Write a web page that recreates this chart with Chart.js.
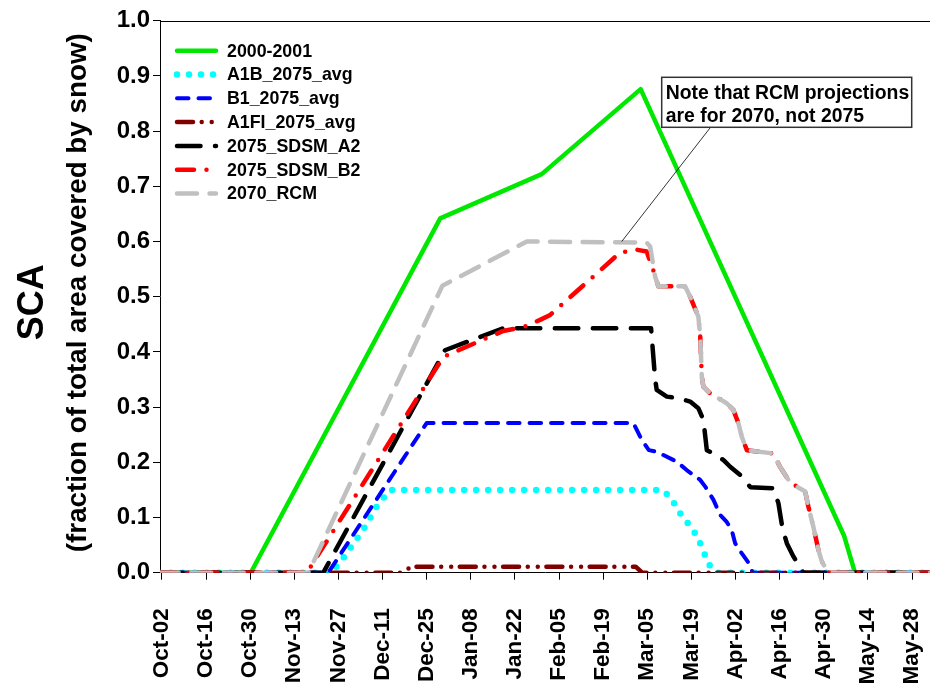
<!DOCTYPE html>
<html>
<head>
<meta charset="utf-8">
<script src="https://cdn.jsdelivr.net/npm/chart.js@4/dist/chart.umd.min.js"></script>
<style>
  html, body { margin: 0; padding: 0; background: #ffffff; }
  canvas { display: block; }
</style>
</head>
<body>
<canvas id="sca" width="930" height="685"></canvas>
<script>
// Day numbers are counted from Oct-02 (day 0) through the snow season.
const tickDays   = [0, 14, 28, 42, 56, 70, 84, 98, 112, 126, 140, 154, 168, 182, 196, 210, 224, 238];
const tickLabels = ['Oct-02', 'Oct-16', 'Oct-30', 'Nov-13', 'Nov-27', 'Dec-11', 'Dec-25', 'Jan-08', 'Jan-22',
                    'Feb-05', 'Feb-19', 'Mar-05', 'Mar-19', 'Apr-02', 'Apr-16', 'Apr-30', 'May-14', 'May-28'];
const yTickValues = [0, 0.1, 0.2, 0.3, 0.4, 0.5, 0.6, 0.7, 0.8, 0.9, 1.0];

const seriesNames = ['2000-2001', 'A1B_2075_avg', 'B1_2075_avg', 'A1FI_2075_avg',
                     '2075_SDSM_A2', '2075_SDSM_B2', '2070_RCM'];

// Observed 2000-2001 snow covered area
const obsDays = [-1, 28.2, 88.3, 120.5, 151.9, 216.5, 219.9, 245];
const obsSCA  = [0, 0, 0.642, 0.722, 0.876, 0.066, 0, 0];

// A1B scenario, 2075 average
const a1bDays = [-1, 53.3, 56.0, 64.0, 68.4, 72.4, 158.6, 161.2, 164.4, 166.7, 168.9, 170.8, 172.0, 173.7, 175.8, 245];
const a1bSCA  = [0, 0, 0.014, 0.079, 0.122, 0.150, 0.150, 0.138, 0.108, 0.091, 0.074, 0.053, 0.036, 0.014, 0, 0];

// B1 scenario, 2075 average
const b1Days = [-1, 52.8, 84.0, 149.6, 152.3, 154.5, 157.0, 163.4, 166.5, 170.8, 172.5, 175.0, 177.1,
                179.2, 180.8, 181.9, 184.0, 186.6, 187.4, 245];
const b1SCA  = [0, 0, 0.271, 0.271, 0.240, 0.222, 0.219, 0.201, 0.186, 0.168, 0.155, 0.132, 0.105,
                0.092, 0.077, 0.053, 0.035, 0.014, 0, 0];

// A1FI scenario, 2075 average
const a1fiDays = [-1, 76.5, 79.0, 150.3, 152.4, 245];
const a1fiSCA  = [0, 0, 0.011, 0.011, 0, 0];

// SDSM downscaling, A2
const sdsmA2Days = [-1, 51.2, 89.8, 108.3, 155.2, 156.5, 157.0, 160.2, 163.9, 167.6, 170.2, 171.8, 172.9,
                    175.0, 178.2, 180.3, 183.5, 186.7, 194.0, 195.6, 196.9, 198.3, 200.4, 202.0, 203.5, 245];
const sdsmA2SCA  = [0, 0, 0.403, 0.443, 0.443, 0.350, 0.331, 0.319, 0.316, 0.310, 0.298, 0.277, 0.222,
                    0.216, 0.204, 0.192, 0.177, 0.155, 0.153, 0.126, 0.080, 0.053, 0.029, 0.014, 0, 0];

// SDSM downscaling, B2
const sdsmB2Days = [-1, 46.0, 89.3, 108.3, 114.7, 120.0, 123.2, 145.4, 150.7, 153.8, 155.9, 157.5, 166.0,
                    167.6, 170.2, 170.8, 171.3, 171.8, 173.9, 176.6, 179.2, 181.3, 182.9, 184.0, 185.6,
                    194.0, 196.1, 198.8, 201.4, 204.1, 205.1, 206.7, 208.3, 209.4, 210.9, 211.6, 245];
const sdsmB2SCA  = [0, 0, 0.391, 0.438, 0.445, 0.458, 0.467, 0.580, 0.585, 0.582, 0.548, 0.519, 0.519,
                    0.500, 0.464, 0.428, 0.355, 0.337, 0.325, 0.316, 0.307, 0.295, 0.271, 0.246, 0.222,
                    0.216, 0.192, 0.168, 0.156, 0.147, 0.120, 0.083, 0.041, 0.020, 0.005, 0, 0];

// Regional climate model, 2070
const rcmDays = [-1, 46.5, 89.0, 115.8, 153.8, 154.9, 156.5, 157.5, 166.0,
                 167.6, 170.2, 170.8, 171.3, 171.8, 173.9, 176.6, 179.2, 181.3, 182.9, 184.0, 185.6,
                 194.0, 196.1, 198.8, 201.4, 204.1, 205.1, 206.7, 208.3, 209.4, 210.9, 211.6, 245];
const rcmSCA  = [0, 0, 0.520, 0.600, 0.598, 0.591, 0.536, 0.519, 0.519,
                 0.500, 0.464, 0.428, 0.355, 0.337, 0.325, 0.316, 0.307, 0.295, 0.271, 0.246, 0.222,
                 0.216, 0.192, 0.168, 0.156, 0.147, 0.120, 0.083, 0.041, 0.020, 0.005, 0, 0];

// Callout text and the point on the RCM curve it refers to
const noteLines = ['Note that RCM projections', 'are for 2070, not 2075'];
const noteTarget = { day: 145.9, sca: 0.600 };

const axisTitle = 'SCA';
const axisSubtitle = '(fraction of total area covered by snow)';

const FONT = '"Liberation Sans", Arial, Helvetica, sans-serif';
Chart.defaults.font.family = FONT;
Chart.defaults.color = '#000';

const toPoints = (days, vals) => days.map((d, i) => ({ x: d, y: vals[i] }));

const lineStyle = (color, width, dash) => ({
  borderColor: color,
  backgroundColor: color,
  borderWidth: width,
  borderDash: dash,
  borderCapStyle: 'round',
  borderJoinStyle: 'round',
  pointRadius: 0,
  pointHoverRadius: 0,
  tension: 0,
  fill: false
});

// Later datasets are painted on top (lower "order" draws last)
const datasets = [
  { label: seriesNames[0], data: toPoints(obsDays, obsSCA),       order: 7, ...lineStyle('#00e800', 4.5, []) },
  { label: seriesNames[1], data: toPoints(a1bDays, a1bSCA),       order: 6, ...lineStyle('#00ffff', 6.5, [0, 12]) },
  { label: seriesNames[2], data: toPoints(b1Days, b1SCA),         order: 5, ...lineStyle('#0000ff', 4, [11.5, 10]) },
  { label: seriesNames[3], data: toPoints(a1fiDays, a1fiSCA),     order: 4, ...lineStyle('#800000', 4.5, [16, 8.7, 0, 10, 0, 8.6]) },
  { label: seriesNames[4], data: toPoints(sdsmA2Days, sdsmA2SCA), order: 3, ...lineStyle('#000000', 4.5, [23.5, 14.5]) },
  { label: seriesNames[5], data: toPoints(sdsmB2Days, sdsmB2SCA), order: 2, ...lineStyle('#ff0000', 4.5, [17, 12.5, 0, 12.5]) },
  { label: seriesNames[6], data: toPoints(rcmDays, rcmSCA),       order: 1, ...lineStyle('#c0c0c0', 4.5, [20, 12.5]) }
];

// Frame top, axis titles, in-plot legend and the callout
const decorations = {
  id: 'decorations',
  afterDraw(chart) {
    const { ctx, chartArea: a, scales } = chart;
    ctx.save();

    // top edge of the frame
    ctx.strokeStyle = '#000';
    ctx.lineWidth = 1;
    ctx.setLineDash([]);
    const ty = Math.round(a.top) + 0.5;
    ctx.beginPath();
    ctx.moveTo(a.left, ty);
    ctx.lineTo(a.right, ty);
    ctx.stroke();

    // y axis titles, rotated
    const midY = (a.top + a.bottom) / 2;
    ctx.fillStyle = '#000';
    ctx.textAlign = 'center';
    ctx.textBaseline = 'alphabetic';
    ctx.save();
    ctx.translate(43, midY + 5.5);
    ctx.rotate(-Math.PI / 2);
    ctx.font = 'bold 36px ' + FONT;
    ctx.fillText(axisTitle, 0, 0);
    ctx.restore();
    ctx.save();
    ctx.translate(86, midY - 4);
    ctx.rotate(-Math.PI / 2);
    ctx.font = 'bold 27.8px ' + FONT;
    ctx.fillText(axisSubtitle, 0, 0);
    ctx.restore();

    // legend inside the plot
    const lx0 = a.left + 17, lx1 = a.left + 56, tx = a.left + 67;
    let ly = a.top + 30;
    ctx.font = 'bold 17.8px ' + FONT;
    ctx.textAlign = 'left';
    ctx.textBaseline = 'middle';
    chart.data.datasets.forEach((ds) => {
      ctx.save();
      ctx.strokeStyle = ds.borderColor;
      ctx.lineWidth = ds.borderWidth;
      ctx.lineCap = ds.borderCapStyle;
      ctx.setLineDash(ds.borderDash);
      ctx.beginPath();
      ctx.moveTo(lx0, ly);
      ctx.lineTo(lx1, ly);
      ctx.stroke();
      ctx.restore();
      ctx.fillStyle = '#000';
      ctx.fillText(ds.label, tx, ly + 1);
      ly += 23.8;
    });

    // callout box with leader line to the RCM curve
    const bx = a.right - 268.3, by = a.top + 56.6, bw = 250, bh = 50;
    const px = scales.x.getPixelForValue(noteTarget.day);
    const py = scales.y.getPixelForValue(noteTarget.sca);
    ctx.strokeStyle = '#000';
    ctx.lineWidth = 0.8;
    ctx.beginPath();
    ctx.moveTo(bx + 50, by + bh - 1.5);
    ctx.lineTo(px, py);
    ctx.stroke();
    ctx.fillStyle = '#fff';
    ctx.fillRect(bx, by, bw, bh);
    ctx.strokeStyle = '#333';
    ctx.lineWidth = 1.5;
    ctx.strokeRect(bx, by, bw, bh);
    ctx.fillStyle = '#000';
    ctx.font = 'bold 19.4px ' + FONT;
    ctx.textAlign = 'left';
    ctx.textBaseline = 'alphabetic';
    ctx.fillText(noteLines[0], bx + 4, by + 22);
    ctx.fillText(noteLines[1], bx + 4, by + 44.4);

    ctx.restore();
  }
};

new Chart(document.getElementById('sca'), {
  type: 'line',
  data: { datasets },
  plugins: [decorations],
  options: {
    responsive: false,
    animation: false,
    devicePixelRatio: 1,
    layout: { padding: { left: 0, right: 0, top: 20.7, bottom: 0 } },
    plugins: {
      legend: { display: false },
      tooltip: { enabled: false }
    },
    scales: {
      x: {
        type: 'linear',
        min: -0.6,
        max: 243.7,
        afterBuildTicks: (s) => { s.ticks = tickDays.map((v) => ({ value: v })); },
        afterFit: (s) => { s.height = 112.3; s.paddingLeft = 0; s.paddingRight = 0; },
        ticks: {
          autoSkip: false,
          minRotation: 90,
          maxRotation: 90,
          padding: 28.5,
          color: '#000',
          font: { size: 22.5, weight: 'bold' },
          callback: (v, i) => tickLabels[i]
        },
        grid: { drawOnChartArea: false, drawTicks: true, tickLength: 7, color: '#000', lineWidth: 1 },
        border: { display: true, color: '#000', width: 1 }
      },
      y: {
        type: 'linear',
        min: 0,
        max: 1,
        afterBuildTicks: (s) => { s.ticks = yTickValues.map((v) => ({ value: v })); },
        afterFit: (s) => { s.width = 160; },
        ticks: {
          padding: 3,
          color: '#000',
          font: { size: 24, weight: 'bold' },
          callback: (v) => Number(v).toFixed(1)
        },
        grid: { drawOnChartArea: false, drawTicks: true, tickLength: 7, color: '#000', lineWidth: 1 },
        border: { display: true, color: '#000', width: 1 }
      }
    }
  }
});
</script>
</body>
</html>
